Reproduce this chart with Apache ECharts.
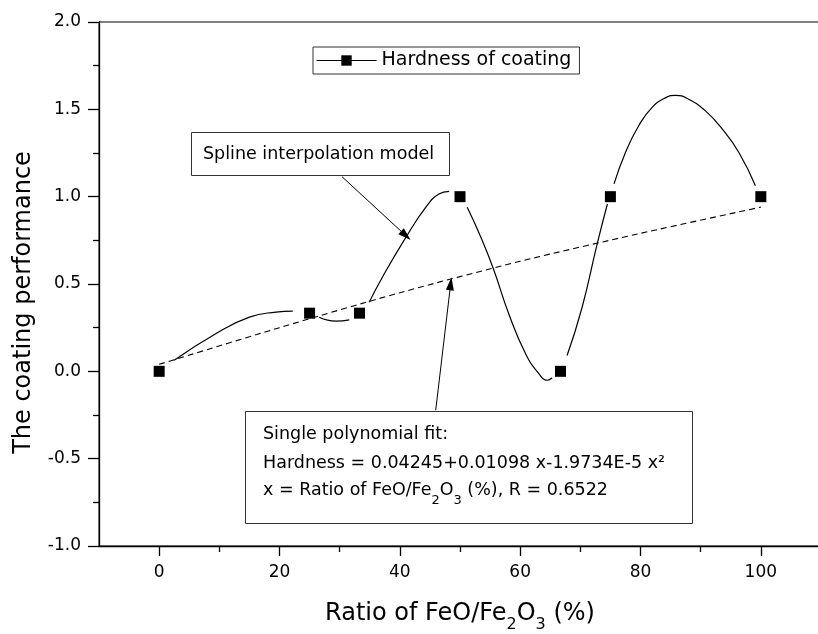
<!DOCTYPE html>
<html><head><meta charset="utf-8">
<script src="https://cdn.jsdelivr.net/npm/echarts@6/dist/echarts.min.js"></script>
<style>html,body{margin:0;padding:0;background:#fff}#c{width:818px;height:634px}</style>
</head><body><div id="c"></div>
<script>
// Measured points ("Hardness of coating")
const hardnessX = [0, 25, 33.3, 50, 66.7, 75, 100];
const hardnessY = [0, 0.333, 0.333, 1, 0, 1, 1];

// Spline interpolation curve (x, y)
const splineSeg1 = [[2.5,0.063],[9.4,0.215],[15.0,0.310],[19.4,0.339],[22.2,0.345]];
const splineSeg2 = [[26.6,0.310],[29.4,0.288],[31.6,0.295]];
const splineSeg3 = [[34.9,0.396],[37.1,0.539],[41.0,0.767],[44.3,0.939],[46.5,1.015],[48.2,1.030]];
const splineSeg4 = [[51.2,0.939],[53.7,0.749],[55.65,0.577],[58.1,0.330],[60.9,0.101],[63.1,-0.013],[64.5,-0.051],[65.3,-0.038]];
const splineSeg5 = [[67.8,0.091],[70.3,0.367],[72.8,0.730],[74.5,0.958]];
const splineSeg6 = [[75.6,1.073],[77.5,1.253],[79.7,1.406],[81.9,1.510],[84.2,1.567],[85.8,1.580],[88.0,1.558],[90.8,1.491],[93.6,1.387],[96.35,1.253],[99.1,1.063]];

// Single polynomial fit (dashed)
const fitX = [0, 20, 40, 60, 80, 100];
const fitY = [0.04, 0.25, 0.45, 0.63, 0.79, 0.94];

// Axis ticks
const xTickValues = [0, 20, 40, 60, 80, 100];
const xMinorTickValues = [10, 30, 50, 70, 90];

// Annotation arrows (data coordinates: start, arrow tip)
const arrowToSpline = [[30.4, 1.114], [41.0, 0.777]];
const arrowToFit = [[45.96, -0.223], [48.45, 0.501]];

const legendLabel = 'Hardness of coating';
const splineNote = 'Spline interpolation model';
const fitNote1 = 'Single polynomial fit:';
const fitNote2 = 'Hardness = 0.04245+0.01098 x-1.9734E-5 x\u00B2';
const fitNote3 = 'x = Ratio of FeO/Fe{s|2}O{s|3} (%), R = 0.6522';
const xTitle = 'Ratio of FeO/Fe{s|2}O{s|3} (%)';
const yTitle = 'The coating performance';

const FONT = 'DejaVu Sans';
const chart = echarts.init(document.getElementById('c'), null, {renderer: 'canvas'});

const splineSegments = [splineSeg1, splineSeg2, splineSeg3, splineSeg4, splineSeg5, splineSeg6];

const option = {
  animation: false,
  backgroundColor: '#fff',
  grid: {left: 99, top: 22, width: 722, height: 524, show: true, borderColor: '#000', borderWidth: 1,
         containLabel: false, outerBoundsMode: 'none'},
  legend: {
    data: [legendLabel], left: 313, top: 47, padding: [4, 8, 4, 3],
    itemWidth: 60, itemHeight: 13, borderColor: '#333', borderWidth: 1, backgroundColor: '#fff',
    textStyle: {fontFamily: FONT, fontSize: 19, color: '#000'},
    lineStyle: {color: '#000', width: 1, opacity: 1, type: 'solid'},
    itemStyle: {color: '#000', borderWidth: 0, opacity: 1},
    selectedMode: false
  },
  xAxis: [{
    type: 'value', min: -10, max: 110, position: 'bottom',
    name: xTitle, nameLocation: 'middle', nameGap: 49,
    nameTextStyle: {fontFamily: FONT, fontSize: 24, color: '#000',
      rich: {s: {fontFamily: FONT, fontSize: 16, color: '#000', padding: [22, 0, 0, 0]}}},
    axisLine: {show: true, onZero: false, lineStyle: {color: '#000', width: 1.3}},
    axisTick: {show: true, inside: false, length: 10, customValues: xTickValues, lineStyle: {color: '#000', width: 1.3}},
    axisLabel: {show: true, customValues: xTickValues, margin: 18, fontFamily: FONT, fontSize: 17, color: '#000'},
    splitLine: {show: false}
  }, {
    type: 'value', min: -10, max: 110, position: 'bottom', gridIndex: 0,
    axisLine: {show: false, onZero: false},
    axisTick: {show: true, inside: false, length: 6, customValues: xMinorTickValues, lineStyle: {color: '#000', width: 1.3}},
    axisLabel: {show: false},
    splitLine: {show: false}
  }],
  yAxis: {
    type: 'value', min: -1, max: 2, interval: 0.5, position: 'left',
    name: yTitle, nameLocation: 'middle', nameGap: 63,
    nameTextStyle: {fontFamily: FONT, fontSize: 24, color: '#000', padding: [0, 37, 0, 0]},
    axisLine: {show: true, onZero: false, lineStyle: {color: '#000', width: 1.3}},
    axisTick: {show: true, inside: false, length: 11, lineStyle: {color: '#000', width: 1.3}},
    minorTick: {show: true, splitNumber: 2, length: 6, lineStyle: {color: '#000', width: 1.3}},
    axisLabel: {margin: 18, fontFamily: FONT, fontSize: 17, color: '#000', formatter: v => v.toFixed(1)},
    splitLine: {show: false}
  },
  graphic: [
    {type: 'rect', shape: {x: 191.5, y: 132.5, width: 258, height: 43}, style: {fill: '#fff', stroke: '#333', lineWidth: 1}, z: 10},
    {type: 'text', x: 203, y: 154, z: 11, style: {text: splineNote, fontFamily: FONT, fontSize: 17.5, fill: '#000', verticalAlign: 'middle'}},
    {type: 'rect', shape: {x: 245.5, y: 411.5, width: 447, height: 112}, style: {fill: '#fff', stroke: '#333', lineWidth: 1}, z: 10},
    {type: 'text', x: 263, y: 434, z: 11, style: {text: fitNote1, fontFamily: FONT, fontSize: 17.5, fill: '#000', verticalAlign: 'middle'}},
    {type: 'text', x: 263, y: 463, z: 11, style: {text: fitNote2, fontFamily: FONT, fontSize: 17.5, fill: '#000', verticalAlign: 'middle'}},
    {type: 'text', x: 263, y: 490, z: 11, style: {text: fitNote3, fontFamily: FONT, fontSize: 17.5, fill: '#000', verticalAlign: 'middle',
      rich: {s: {fontFamily: FONT, fontSize: 13, fill: '#000', padding: [21, 0, 0, 0]}}}}
  ],
  series: [
    {
      type: 'line', name: 'fit', data: fitX.map((x, i) => [x, fitY[i]]), smooth: 0.3, symbol: 'none',
      lineStyle: {color: '#000', width: 1.1, type: [6, 4]}, silent: true, z: 2,
      markLine: {
        silent: true, symbol: ['none', 'path://M0,0L5,14L-5,14Z'], symbolSize: [8, 13], animation: false,
        label: {show: false}, lineStyle: {color: '#000', width: 1, type: 'solid'},
        itemStyle: {color: '#000'},
        emphasis: {disabled: true},
        data: [
          [{coord: arrowToSpline[0]}, {coord: arrowToSpline[1]}],
          [{coord: arrowToFit[0]}, {coord: arrowToFit[1]}]
        ]
      }
    },
    ...splineSegments.map(seg => ({
      type: 'line', name: 'spline', data: seg, smooth: 0.5, symbol: 'none', silent: true, z: 3,
      lineStyle: {color: '#000', width: 1.2}
    })),
    {
      type: 'line', name: legendLabel, data: hardnessX.map((x, i) => [x, hardnessY[i]]),
      symbol: 'rect', symbolSize: 11, showSymbol: true, silent: true, z: 5,
      lineStyle: {opacity: 0, color: '#000'}, itemStyle: {color: '#000'}
    }
  ]
};
chart.setOption(option);
</script>
</body></html>
